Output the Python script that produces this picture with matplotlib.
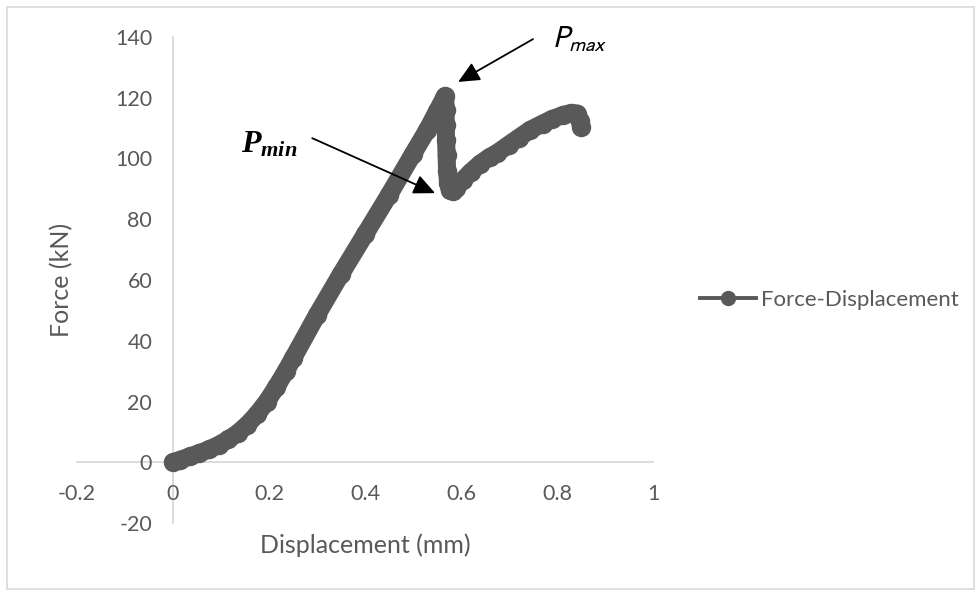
import matplotlib
matplotlib.use("Agg")
import matplotlib.pyplot as plt
from matplotlib.lines import Line2D
from matplotlib.patches import Rectangle

# ---- data ----
displacement_mm = [0.000, 0.015, 0.035, 0.055, 0.075, 0.095, 0.115, 0.135, 0.155,
                   0.175, 0.195, 0.215, 0.235, 0.250, 0.300, 0.350, 0.400, 0.450,
                   0.500, 0.530, 0.550, 0.565, 0.567, 0.568, 0.568, 0.569, 0.570,
                   0.571, 0.573, 0.577, 0.583, 0.590, 0.604, 0.620, 0.640, 0.660,
                   0.675, 0.700, 0.720, 0.744, 0.770, 0.790, 0.812, 0.830, 0.842,
                   0.848, 0.850]
force_kN = [0.0, 0.8, 1.9, 3.0, 4.2, 5.7, 7.5, 9.6, 12.4,
            15.8, 19.9, 24.7, 30.0, 34.2, 48.5, 62.0, 75.0, 88.0,
            101.5, 109.5, 115.5, 120.0, 120.5, 116.0, 111.0, 106.0, 101.0,
            96.0, 92.0, 89.5, 89.2, 90.3, 92.9, 95.5, 98.3, 100.5,
            101.8, 104.6, 106.8, 109.4, 111.5, 113.0, 114.3, 115.0, 114.8,
            112.5, 110.5]

x_ticks = [-0.2, 0, 0.2, 0.4, 0.6, 0.8, 1]
x_tick_labels = ["-0.2", "0", "0.2", "0.4", "0.6", "0.8", "1"]
y_ticks = [-20, 0, 20, 40, 60, 80, 100, 120, 140]
y_tick_labels = ["-20", "0", "20", "40", "60", "80", "100", "120", "140"]

series_name = "Force-Displacement"
x_title = "Displacement (mm)"
y_title = "Force (kN)"

# ---- style ----
plt.rcParams['font.family'] = ['Lato', 'DejaVu Sans']
plt.rcParams['mathtext.it'] = 'Liberation Serif:italic:bold'
plt.rcParams['mathtext.rm'] = 'Liberation Serif:bold'
TXT = '#595959'
AX = '#d9d9d9'
CURVE = '#595959'

W, H = 977, 592
fig = plt.figure(figsize=(W / 100, H / 100), dpi=100)
fig.patch.set_facecolor('white')

# outer chart border
fig.add_artist(Rectangle((7 / W, 3 / H), (974 - 7) / W, (589 - 7) / H,
                         transform=fig.transFigure, fill=False,
                         edgecolor=AX, lw=1.2))

ax = fig.add_axes([77 / W, 1 - 523 / H, 576 / W, 486 / H])
ax.set_xlim(-0.2, 1.0)
ax.set_ylim(-20, 140)

ax.plot(displacement_mm, force_kN, color=CURVE, lw=13, marker='o', ms=13,
        solid_capstyle='round', solid_joinstyle='round', zorder=3)

for s in ['top', 'right']:
    ax.spines[s].set_visible(False)
ax.spines['left'].set_position(('data', 0))
ax.spines['bottom'].set_position(('data', 0))
for s in ['left', 'bottom']:
    ax.spines[s].set_color(AX)
    ax.spines[s].set_linewidth(1.3)
    ax.spines[s].set_zorder(1)

ax.set_xticks(x_ticks)
ax.set_xticklabels(x_tick_labels)
ax.set_yticks(y_ticks)
ax.set_yticklabels(y_tick_labels)
ax.tick_params(axis='both', length=0, labelsize=15.5, labelcolor=TXT)
ax.tick_params(axis='y', pad=15)
ax.tick_params(axis='x', pad=16)

ax.set_xlabel(x_title, fontsize=18, color=TXT, va='center')
ax.xaxis.set_label_coords(0.5, (523 - 545) / 486)
ax.set_ylabel(y_title, fontsize=18, color=TXT, va='center')
ax.yaxis.set_label_coords((62 - 77) / 576, 0.5)

# legend
handle = Line2D([], [], color=CURVE, lw=2.8, marker='o', ms=10)
fig.legend([handle], [series_name], loc='center left',
           bbox_to_anchor=(680 / W, 1 - 300 / H), frameon=False,
           fontsize=16, labelcolor=TXT, handlelength=2.5, handletextpad=0.25)

# annotations
arrow = dict(arrowstyle='-|>,head_length=0.65,head_width=0.3',
             color='black', lw=1.3, shrinkA=0, shrinkB=0, mutation_scale=20)
ax.annotate('', xy=(0.594, 125.2), xytext=(0.75, 139.3), textcoords='data',
            arrowprops=arrow)
ax.text(0.790, 136.4, '$P_{max}$', fontsize=22, math_fontfamily='stixsans',
        color='black', ha='left', va='baseline')

ax.annotate('', xy=(0.546, 88.6), xytext=(0.29, 106.7), textcoords='data',
            arrowprops=arrow)
ax.text(0.142, 102.1, '$P_{min}$', fontsize=23, math_fontfamily='custom',
        color='black', ha='left', va='baseline')

fig.savefig('out.png', dpi=100, facecolor='white')
